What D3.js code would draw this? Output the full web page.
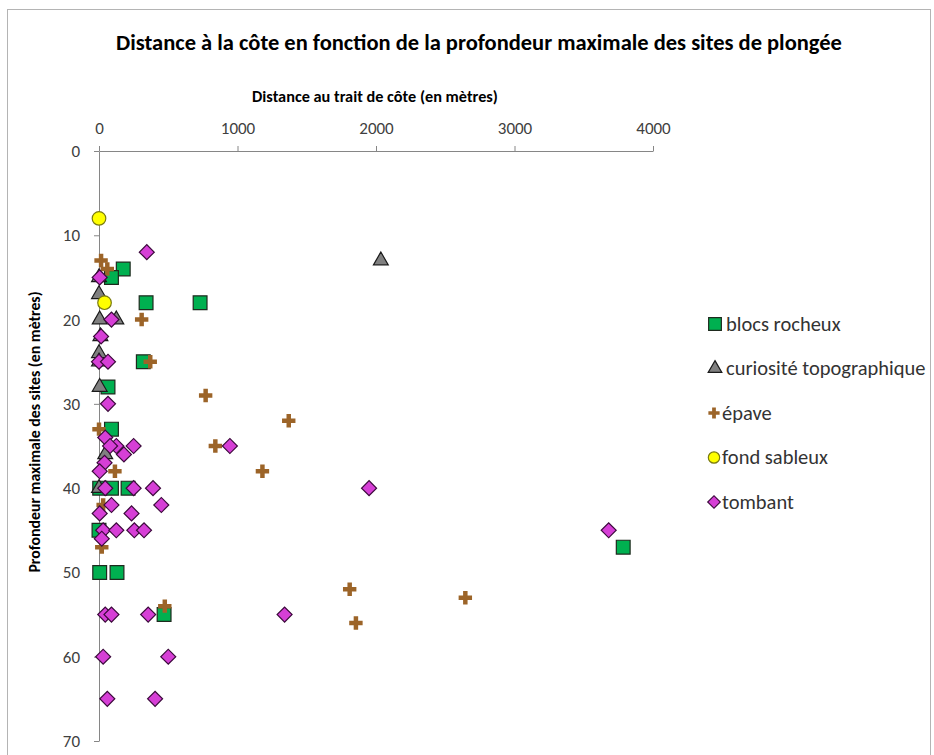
<!DOCTYPE html>
<html>
<head>
<meta charset="utf-8">
<script src="https://d3js.org/d3.v7.min.js"></script>
<style>
  body { margin: 0; background: #fff; }
  text { font-family: Carlito, Lato, "Open Sans", sans-serif; }
</style>
</head>
<body>
<svg width="934" height="755"></svg>
<script>

// ---- data: [distance (m), max depth (m)] per site type
var blocsRocheux = [[175,14],[90,15],[340,18],[730,18],[320,25],[65,28],[90,33],
  [5,40],[90,40],[210,40],[0,45],[5,50],[130,50],[470,55],[3785,47]];
var curiosite = [[2035,13],[0,15],[0,17],[5,20],[125,20],[10,22],[0,24],[0,25],
  [5,28],[45,36],[0,40]];
var epave = [[15,13],[60,14],[308,20],[370,25],[770,29],[1370,32],[0,33],[840,35],
  [115,38],[1180,38],[30,42],[20,47],[475,54],[1810,52],[1855,56],[2645,53]];
var fondSableux = [[0,8],[40,18]];
var tombant = [[345,12],[5,15],[90,20],[15,22],[0,25],[65,25],[65,30],[45,34],
  [125,35],[80,35],[250,35],[945,35],[180,36],[40,37],[5,38],[45,40],[250,40],
  [390,40],[1950,40],[90,42],[450,42],[5,43],[235,43],[30,45],[125,45],[255,45],
  [325,45],[3680,45],[20,46],[45,55],[90,55],[355,55],[1340,55],[30,60],[500,60],
  [60,65],[405,65]];

var seriesNames = ["blocs rocheux", "curiosité topographique", "épave", "fond sableux", "tombant"];
var xTicks = [0, 1000, 2000, 3000, 4000];
var yTicks = [0, 10, 20, 30, 40, 50, 60, 70];

var svg = d3.select("svg");

var x = d3.scaleLinear().domain([0, 4000]).range([99, 653]);
var y = d3.scaleLinear().domain([0, 70]).range([151, 741]);

// marker look per series
var styles = [
  { type: d3.symbolSquare,   size: 190, fill: "#00b050", stroke: "#1e2a1e", rot: 0 },
  { type: d3.symbolTriangle, size: 95,  fill: "#808080", stroke: "#1a1a1a", rot: 0 },
  { type: d3.symbolCross,    size: 100, fill: "#9c6428", stroke: "none",    rot: 0 },
  { type: d3.symbolCircle,   size: 145, fill: "#ffff00", stroke: "#7a7a10", rot: 0 },
  { type: d3.symbolSquare,   size: 112, fill: "#d63fd6", stroke: "#3c0a3c", rot: 45 }
];
var allSeries = [blocsRocheux, curiosite, epave, fondSableux, tombant];

// chart border
svg.append("rect")
    .attr("x", 7.5).attr("y", 9.5)
    .attr("width", 923).attr("height", 760)
    .attr("fill", "none")
    .attr("stroke", "#b4b4b4");

// title
svg.append("text")
    .attr("x", 479).attr("y", 50)
    .attr("text-anchor", "middle")
    .attr("font-size", 22.5)
    .attr("font-weight", "bold")
    .attr("fill", "#000")
    .text("Distance à la côte en fonction de la profondeur maximale des sites de plongée");

// top axis (distance)
var gx = svg.append("g")
    .attr("transform", "translate(0," + y(0) + ")")
    .call(d3.axisTop(x).tickValues(xTicks).tickFormat(d3.format("d"))
      .tickSize(5).tickPadding(12).tickSizeOuter(0));
gx.select(".domain").attr("stroke", "#868686");
gx.selectAll(".tick line").attr("stroke", "#868686");
gx.selectAll(".tick text").attr("font-size", 17).attr("fill", "#404040")
    .attr("font-family", "Carlito, Lato, sans-serif");

svg.append("text")
    .attr("x", 375).attr("y", 102)
    .attr("text-anchor", "middle")
    .attr("font-size", 16.3)
    .attr("font-weight", "bold")
    .attr("fill", "#000")
    .text("Distance au trait de côte (en mètres)");

// left axis (depth)
var gy = svg.append("g")
    .attr("transform", "translate(" + x(0) + ",0)")
    .call(d3.axisLeft(y).tickValues(yTicks).tickSize(5).tickPadding(14).tickSizeOuter(0));
gy.select(".domain").attr("stroke", "#868686");
gy.selectAll(".tick line").attr("stroke", "#868686");
gy.selectAll(".tick text").attr("font-size", 17).attr("fill", "#404040")
    .attr("font-family", "Carlito, Lato, sans-serif");

svg.append("text")
    .attr("transform", "translate(40,432) rotate(-90)")
    .attr("text-anchor", "middle")
    .attr("font-size", 15.8)
    .attr("font-weight", "bold")
    .attr("fill", "#000")
    .text("Profondeur maximale des sites (en mètres)");

// points, one group per series (later series on top)
allSeries.forEach(function(data, i) {
  var s = styles[i];
  var sym = d3.symbol().type(s.type).size(s.size);
  svg.append("g")
    .selectAll("path")
    .data(data)
    .enter().append("path")
      .attr("d", sym)
      .attr("transform", function(d) {
        return "translate(" + x(d[0]) + "," + y(d[1]) + ") rotate(" + s.rot + ")";
      })
      .attr("fill", s.fill)
      .attr("stroke", s.stroke)
      .attr("stroke-width", 1.2);
});

// legend
var legend = svg.append("g").attr("transform", "translate(715,324)");
var rows = legend.selectAll("g")
    .data(seriesNames)
    .enter().append("g")
      .attr("transform", function(d, i) { return "translate(0," + (i * 44.5) + ")"; });

rows.append("path")
    .attr("d", function(d, i) { return d3.symbol().type(styles[i].type).size(styles[i].size * (i < 2 ? 0.85 : 0.7))(); })
    .attr("transform", function(d, i) { return "translate(" + (i < 2 ? 0 : -1) + ",0) rotate(" + styles[i].rot + ")"; })
    .attr("fill", function(d, i) { return styles[i].fill; })
    .attr("stroke", function(d, i) { return styles[i].stroke; })
    .attr("stroke-width", 1.2);

rows.append("text")
    .attr("x", function(d, i) { return i < 2 ? 11 : 7; })
    .attr("y", 6.5)
    .attr("font-size", 20.5)
    .attr("fill", "#333")
    .text(function(d) { return d; });

</script>
</body>
</html>
